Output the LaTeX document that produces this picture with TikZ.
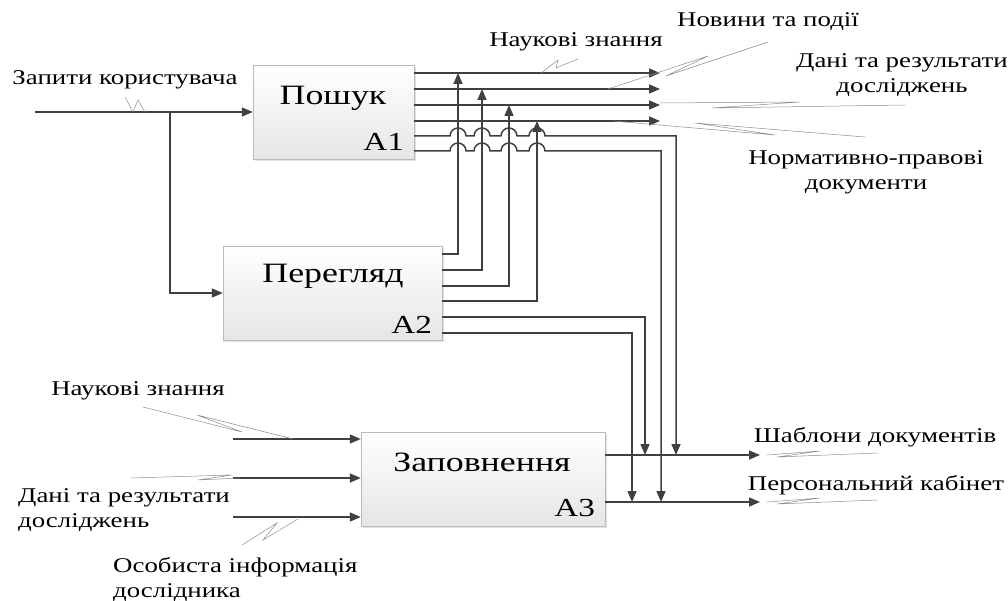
\documentclass[tikz,border=0pt]{standalone}
\usepackage{fontspec}
\setmainfont{Liberation Serif}[FakeStretch=1.28]
\usepackage{tikz}
\usetikzlibrary{arrows.meta,calc,shadows}
\definecolor{wire}{RGB}{64,64,64}
\definecolor{leader}{RGB}{140,140,140}

\begin{document}
\begin{tikzpicture}[x=1pt, y=-1pt,
    func/.style={draw=gray!55, top color=white, bottom color=gray!20,
                 minimum height=94pt, inner sep=0pt,
                 drop shadow={shadow xshift=1.5pt, shadow yshift=-1.5pt, fill=gray!45}},
    title/.style={font=\fontsize{28}{30}\selectfont},
    code/.style={font=\fontsize{26}{28}\selectfont, anchor=south east, inner sep=0pt},
    lbl/.style={font=\fontsize{21}{25}\selectfont, inner sep=0pt},
    line/.style={wire, line width=1.5pt},
    arr/.style={line, -{Triangle[length=11pt,width=9pt]}},
    squig/.style={leader, line width=0.5pt},
]
    \useasboundingbox (0,0) rectangle (1008,601);

    % function boxes
    \node[func, minimum width=161pt] (a1) at (333.5,112.5) {};
    \node[func, minimum width=219pt] (a2) at (332.5,293) {};
    \node[func, minimum width=244pt] (a3) at (483,479) {};
    \node[title] (t1) at (333,98) {Пошук};
    \node[title] (t2) at (333,276) {Перегляд};
    \node[title] (t3) at (482,462) {Заповнення};
    \node[code] (c1) at ([shift={(-10,-9)}]a1.south east) {A1};
    \node[code] (c2) at ([shift={(-10,-7)}]a2.south east) {A2};
    \node[code] (c3) at ([shift={(-10,-9)}]a3.south east) {A3};

    % labels
    \node[lbl] (lq) at (125,80) {Запити користувача};
    \node[lbl] (lk1) at (576,42) {Наукові знання};
    \node[lbl] (ln) at (768,22) {Новини та події};
    \node[lbl, align=center] (ld1) at (902,75) {Дані та результати\\досліджень};
    \node[lbl, align=center] (lnp) at (866,172) {Нормативно-правові\\документи};
    \node[lbl] (lk2) at (138,391) {Наукові знання};
    \node[lbl, align=left, anchor=west] (ld2) at (18,510) {Дані та результати\\досліджень};
    \node[lbl, align=left, anchor=west] (lo) at (113,580) {Особиста інформація\\дослідника};
    \node[lbl] (lsh) at (875,437) {Шаблони документів};
    \node[lbl] (lpk) at (876,485) {Персональний кабінет};

    % points of the wires
    \coordinate (q) at (35,112);
    \coordinate (b) at (170,112);
    \coordinate (e1) at (660,73);
    \coordinate (e2) at (660,89);
    \coordinate (e3) at (660,105);
    \coordinate (e4) at (660,121);
    \coordinate (h1) at (676,136);
    \coordinate (h2) at (661,151);
    \coordinate (v1) at (458,254);
    \coordinate (v2) at (482,270);
    \coordinate (v3) at (509,286);
    \coordinate (v4) at (537,301);
    \coordinate (w1) at (645,317);
    \coordinate (w2) at (632,333);
    \coordinate (s1) at (760,455);
    \coordinate (s2) at (760,502);
    \coordinate (i1) at (233,439);
    \coordinate (i2) at (233,478);
    \coordinate (i3) at (233,517);

    % inputs
    \draw[arr] (q) -- (q -| a1.west);
    \draw[arr] (b) -- (b |- a2.west) -- (a2.west);
    \draw[arr] (i1) -- (i1 -| a3.west);
    \draw[arr] (i2) -- (i2 -| a3.west);
    \draw[arr] (i3) -- (i3 -| a3.west);

    % outputs of A1
    \draw[arr] (e1 -| a1.east) -- (e1);
    \draw[arr] (e2 -| a1.east) -- (e2);
    \draw[arr] (e3 -| a1.east) -- (e3);
    \draw[arr] (e4 -| a1.east) -- (e4);
    \draw[arr] (h1 -| a1.east) foreach \v in {v1,v2,v3,v4} {
        -- ($(h1 -| \v)+(-8,0)$) arc[start angle=180, end angle=0, radius=8pt]
    } -- (h1) -- (h1 |- s1);
    \draw[arr] (h2 -| a1.east) foreach \v in {v1,v2,v3,v4} {
        -- ($(h2 -| \v)+(-8,0)$) arc[start angle=180, end angle=0, radius=8pt]
    } -- (h2) -- (h2 |- s2);

    % outputs of A2
    \draw[arr] (v1 -| a2.east) -- (v1) -- (v1 |- e1);
    \draw[arr] (v2 -| a2.east) -- (v2) -- (v2 |- e2);
    \draw[arr] (v3 -| a2.east) -- (v3) -- (v3 |- e3);
    \draw[arr] (v4 -| a2.east) -- (v4) -- (v4 |- e4);
    \draw[arr] (w1 -| a2.east) -- (w1) -- (w1 |- s1);
    \draw[arr] (w2 -| a2.east) -- (w2) -- (w2 |- s2);

    % outputs of A3
    \draw[arr] (s1 -| a3.east) -- (s1);
    \draw[arr] (s2 -| a3.east) -- (s2);

    % squiggles
    \draw[squig] (125,97) -- (133,112) -- (138,100) -- (145,112);
    \draw[squig] (541,73) -- (558,60) -- (556,68) -- (578,59);
    \draw[squig] (768,42) -- (666,76) -- (708,56) -- (608,89);
    \draw[squig] (905,105) -- (712,108) -- (800,102) -- (660,103);
    \draw[squig] (865,137) -- (695,123) -- (775,135) -- (613,121);
    \draw[squig] (143,407) -- (242,432) -- (197,415) -- (293,439);
    \draw[squig] (131,478) -- (232,475) -- (198,480) -- (240,478);
    \draw[squig] (242,545) -- (277,523) -- (263,540) -- (298,519);
    \draw[squig] (767,455) -- (820,451) -- (777,457) -- (877,453);
    \draw[squig] (767,502) -- (820,498) -- (777,504) -- (877,500);
\end{tikzpicture}
\end{document}
